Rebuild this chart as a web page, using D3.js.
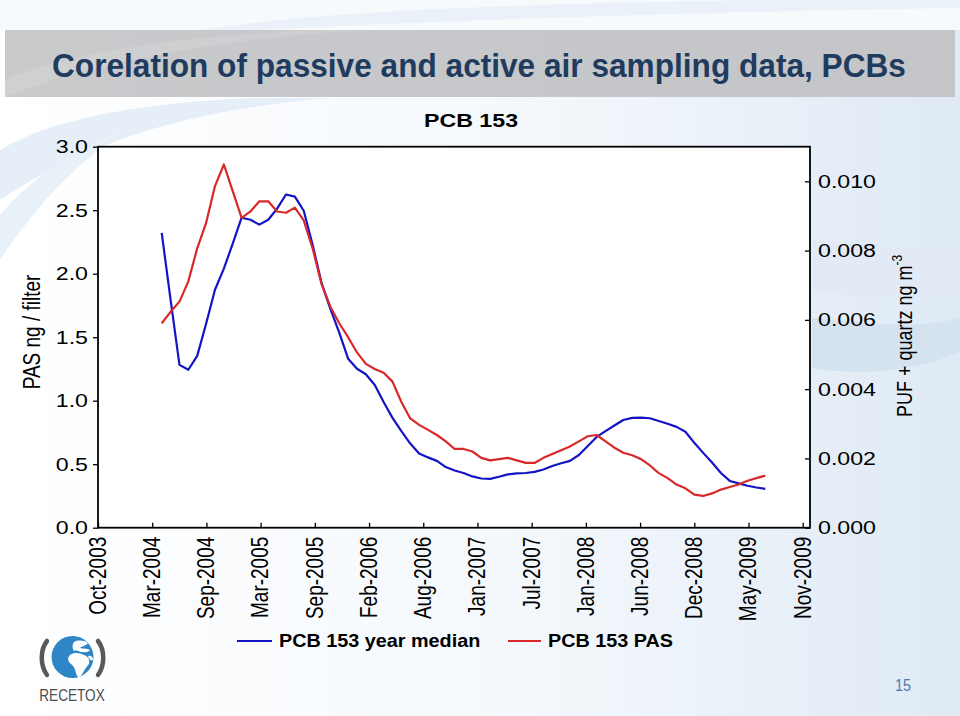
<!DOCTYPE html>
<html><head><meta charset="utf-8">
<script src="https://cdn.jsdelivr.net/npm/d3@7"></script>
<style>body{margin:0;background:#fff;} svg{display:block;}</style>
</head><body>
<svg id="c" width="960" height="716"></svg>
<script>
// ---------- data ----------
const tickLabels = ["Oct-2003","Mar-2004","Sep-2004","Mar-2005","Sep-2005","Feb-2006","Aug-2006",
  "Jan-2007","Jul-2007","Jan-2008","Jun-2008","Dec-2008","May-2009","Nov-2009"];
const axisStart = "2003-10-01";
const tickStepDays = 171;
const axisSpanDays = 2246;
const firstSample = "2004-04-19";
const sampleStepDays = 28;
// PCB 153 year median (PUF + quartz, ng m-3) -> right axis
const medianValues = [0.00851,0.00658,0.00470,0.00456,0.00496,0.00589,0.00687,0.00748,0.00820,0.00895,
  0.00889,0.00875,0.00889,0.00921,0.00962,0.00956,0.00915,0.00817,0.00707,0.00632,
  0.00563,0.00488,0.00459,0.00443,0.00412,0.00363,0.00317,0.00279,0.00243,0.00214,
  0.00203,0.00193,0.00175,0.00165,0.00158,0.00148,0.00142,0.00141,0.00147,0.00154,
  0.00157,0.00158,0.00161,0.00168,0.00178,0.00186,0.00193,0.00210,0.00236,0.00262,
  0.00279,0.00295,0.00311,0.00317,0.00318,0.00316,0.00308,0.00300,0.00291,0.00277,
  0.00245,0.00216,0.00188,0.00158,0.00135,0.00128,0.00121,0.00116,0.00112];
// PCB 153 PAS (ng / filter) -> left axis
const pasValues = [1.61,1.70,1.78,1.94,2.20,2.40,2.69,2.86,2.65,2.44,
  2.49,2.57,2.57,2.49,2.48,2.52,2.42,2.20,1.92,1.74,
  1.61,1.50,1.38,1.29,1.25,1.22,1.15,0.99,0.86,0.81,
  0.77,0.73,0.68,0.62,0.62,0.60,0.55,0.53,0.54,0.55,
  0.53,0.51,0.51,0.55,0.58,0.61,0.64,0.68,0.72,0.73,
  0.68,0.63,0.59,0.57,0.54,0.49,0.43,0.39,0.34,0.31,
  0.26,0.25,0.27,0.30,0.32,0.34,0.37,0.39,0.41];
const leftTicks = [0,0.5,1.0,1.5,2.0,2.5,3.0];
const rightTicks = [0,0.002,0.004,0.006,0.008,0.010];
const leftDomain = [0,3];
const rightDomain = [0,0.011];
const seriesNames = ["PCB 153 year median","PCB 153 PAS"];

// ---------- layout ----------
const svg = d3.select("#c");
const W=960,H=716;
const P = {l:98, r:810, t:146.7, b:527.7};
const FONT = "'Liberation Sans', Arial, Helvetica, sans-serif";
const SX = 1.22; // horizontal stretch of the chart picture

const defs = svg.append("defs");
const g1 = defs.append("linearGradient").attr("id","bg").attr("x1","0").attr("x2","1").attr("y1","0").attr("y2","0");
g1.append("stop").attr("offset","0%").attr("stop-color","#ffffff");
g1.append("stop").attr("offset","55%").attr("stop-color","#f4f8fc");
g1.append("stop").attr("offset","100%").attr("stop-color","#dfeaf5");
const g2 = defs.append("linearGradient").attr("id","bar").attr("x1","0").attr("x2","1").attr("y1","0").attr("y2","0");
g2.append("stop").attr("offset","0%").attr("stop-color","#c9cacc");
g2.append("stop").attr("offset","100%").attr("stop-color","#c3c5c8");

svg.append("rect").attr("width",W).attr("height",H).attr("fill","url(#bg)");
// pale swooshes
svg.append("path").attr("d","M0,150 C50,120 130,104 250,98 L330,98 C190,110 90,140 0,200 Z").attr("fill","#e3ecf6").attr("opacity",0.9);
svg.append("path").attr("d","M0,215 C30,180 70,150 130,128 C80,160 40,200 0,260 Z").attr("fill","#e8f0f8");
svg.append("path").attr("d","M812,240 C860,244 915,250 960,244 L960,292 C915,302 860,300 812,290 Z").attr("fill","#e2ebf5");
svg.append("path").attr("d","M812,318 C860,322 915,330 960,318 L960,352 C915,372 860,376 812,368 Z").attr("fill","#d5e3f1");
svg.append("path").attr("d","M0,0 L960,0 L960,30 L0,30 Z").attr("fill","#f7fafd");
svg.append("path").attr("d","M200,30 C330,10 520,4 760,0 L960,0 L960,8 C700,12 450,20 260,30 Z").attr("fill","#eaf1f8");

// title bar
svg.append("rect").attr("x",5).attr("y",30).attr("width",950).attr("height",67).attr("fill","url(#bar)");
svg.append("path").attr("d","M5,80 C70,52 180,36 320,30 L360,30 C220,40 100,60 5,97 Z").attr("fill","#ffffff").attr("opacity",0.12);
svg.append("text").attr("transform","translate(52,77) scale(0.93,1)")
  .attr("font-family",FONT).attr("font-weight","bold").attr("font-size",34).attr("fill","#1f3b5e")
  .text("Corelation of passive and active air sampling data, PCBs");

// ---------- scales ----------
const t0 = new Date(axisStart+"T00:00:00");
const x = d3.scaleTime().domain([t0, d3.timeDay.offset(t0, axisSpanDays)]).range([P.l,P.r]);
const yL = d3.scaleLinear().domain(leftDomain).range([P.b,P.t]);
const yR = d3.scaleLinear().domain(rightDomain).range([P.b,P.t]);
const tickDates = tickLabels.map((_,i)=>d3.timeDay.offset(t0, i*tickStepDays));
const s0 = new Date(firstSample+"T00:00:00");
const sampleDates = pasValues.map((_,i)=>d3.timeDay.offset(s0, i*sampleStepDays));

// plot background
svg.append("rect").attr("x",P.l).attr("y",P.t).attr("width",P.r-P.l).attr("height",P.b-P.t)
  .attr("fill","#ffffff");

// chart title
svg.append("text").attr("transform",`translate(471,127) scale(${SX},1)`).attr("text-anchor","middle")
  .attr("font-family",FONT).attr("font-weight","bold").attr("font-size",19).attr("fill","#000").text("PCB 153");

// left axis
const gl = svg.append("g").attr("transform",`translate(${P.l},0)`)
  .call(d3.axisLeft(yL).tickValues(leftTicks).tickFormat(d3.format(".1f")).tickSize(5));
gl.select(".domain").remove();
gl.selectAll("line").attr("stroke","#000").attr("stroke-width",1.3);
gl.selectAll("text").attr("x",-10/SX).attr("transform",`scale(${SX},1)`)
  .attr("font-family",FONT).attr("font-size",19).attr("fill","#000");

// right axis
const gr = svg.append("g").attr("transform",`translate(${P.r},0)`)
  .call(d3.axisRight(yR).tickValues(rightTicks).tickFormat(d3.format(".3f")).tickSize(-5));
gr.select(".domain").remove();
gr.selectAll("line").attr("stroke","#000").attr("stroke-width",1.3);
gr.selectAll("text").attr("x",8/SX).attr("transform",`scale(${SX},1)`)
  .attr("font-family",FONT).attr("font-size",19).attr("fill","#000");

// bottom axis
const gb = svg.append("g").attr("transform",`translate(0,${P.b})`)
  .call(d3.axisBottom(x).tickValues(tickDates).tickFormat((d,i)=>tickLabels[i]).tickSize(-5));
gb.select(".domain").remove();
gb.selectAll("line").attr("stroke","#000").attr("stroke-width",1.3);
gb.selectAll("text").attr("x",0).attr("y",0).attr("dy","0.36em").attr("text-anchor","end")
  .attr("transform",`translate(-1,9) scale(${SX},1) rotate(-90)`)
  .attr("font-family",FONT).attr("font-size",19).attr("fill","#000");

// frame border
svg.append("rect").attr("x",P.l).attr("y",P.t).attr("width",P.r-P.l).attr("height",P.b-P.t)
  .attr("fill","none").attr("stroke","#000").attr("stroke-width",1.8);

// lines
const lineR = d3.line().x((d,i)=>x(sampleDates[i])).y(d=>yR(d));
const lineL = d3.line().x((d,i)=>x(sampleDates[i])).y(d=>yL(d));
const BLUE="#1414c4", RED="#d8282a";
svg.append("path").attr("d",lineR(medianValues)).attr("fill","none").attr("stroke",BLUE).attr("stroke-width",2.2).attr("stroke-linejoin","round");
svg.append("path").attr("d",lineL(pasValues)).attr("fill","none").attr("stroke",RED).attr("stroke-width",2.2).attr("stroke-linejoin","round");

// axis titles
svg.append("text").attr("transform",`translate(40,332) scale(${SX},1) rotate(-90)`).attr("text-anchor","middle")
  .attr("font-family",FONT).attr("font-size",19).attr("fill","#000").text("PAS ng / filter");
const rt = svg.append("text").attr("transform",`translate(912,336) scale(${SX},1) rotate(-90)`).attr("text-anchor","middle")
  .attr("font-family",FONT).attr("font-size",18).attr("fill","#000");
rt.append("tspan").text("PUF + quartz ng m");
rt.append("tspan").attr("dy",-8).attr("font-size",12).text("-3");

// legend
const leg = [{c:BLUE,x1:237,x2:272,tx:279,t:seriesNames[0]},{c:RED,x1:508,x2:541,tx:548,t:seriesNames[1]}];
leg.forEach(d=>{
  svg.append("line").attr("x1",d.x1).attr("x2",d.x2).attr("y1",641).attr("y2",641).attr("stroke",d.c).attr("stroke-width",2);
  svg.append("text").attr("transform",`translate(${d.tx},647) scale(1.1,1)`).attr("font-family",FONT)
    .attr("font-weight","bold").attr("font-size",18).attr("fill","#000").text(d.t);
});

// logo
const logo = svg.append("g");
defs.append("clipPath").attr("id","globe").append("circle").attr("cx",72.5).attr("cy",657).attr("r",21);
logo.append("circle").attr("cx",72.5).attr("cy",657).attr("r",21).attr("fill","#2f86c6");
const cont = logo.append("g").attr("clip-path","url(#globe)").attr("fill","#ffffff");
cont.append("path").attr("d","M74,642 C78,640 84,640 88,643 C86,646 82,646 80,648 C83,649 87,648 90,650 C88,653 84,652 81,652 C78,651 76,650 74,651 C72,648 72,645 74,642 Z");
cont.append("path").attr("d","M70,655 C74,652 80,653 84,655 C88,656 90,660 89,664 C86,667 84,671 81,676 C79,679 77,677 76,673 C75,669 74,666 71,664 C68,662 67,658 70,655 Z");
cont.append("path").attr("d","M88,656 C91,655 93,657 93,660 C91,661 89,660 88,656 Z");
logo.append("path").attr("d","M47,641 C40,650 40,665 47,675").attr("fill","none").attr("stroke","#58595b").attr("stroke-width",4.5).attr("stroke-linecap","round");
logo.append("path").attr("d","M98,641 C105,650 105,665 98,675").attr("fill","none").attr("stroke","#58595b").attr("stroke-width",4.5).attr("stroke-linecap","round");
logo.append("text").attr("transform","translate(72,701) scale(0.85,1)").attr("text-anchor","middle")
  .attr("font-family",FONT).attr("font-size",16).attr("fill","#4d4d4f").text("RECETOX");

// page number
svg.append("text").attr("transform","translate(903,691) scale(0.85,1)").attr("text-anchor","middle").attr("font-family",FONT)
  .attr("font-size",17).attr("fill","#4a7cad").text("15");
</script>
</body></html>
